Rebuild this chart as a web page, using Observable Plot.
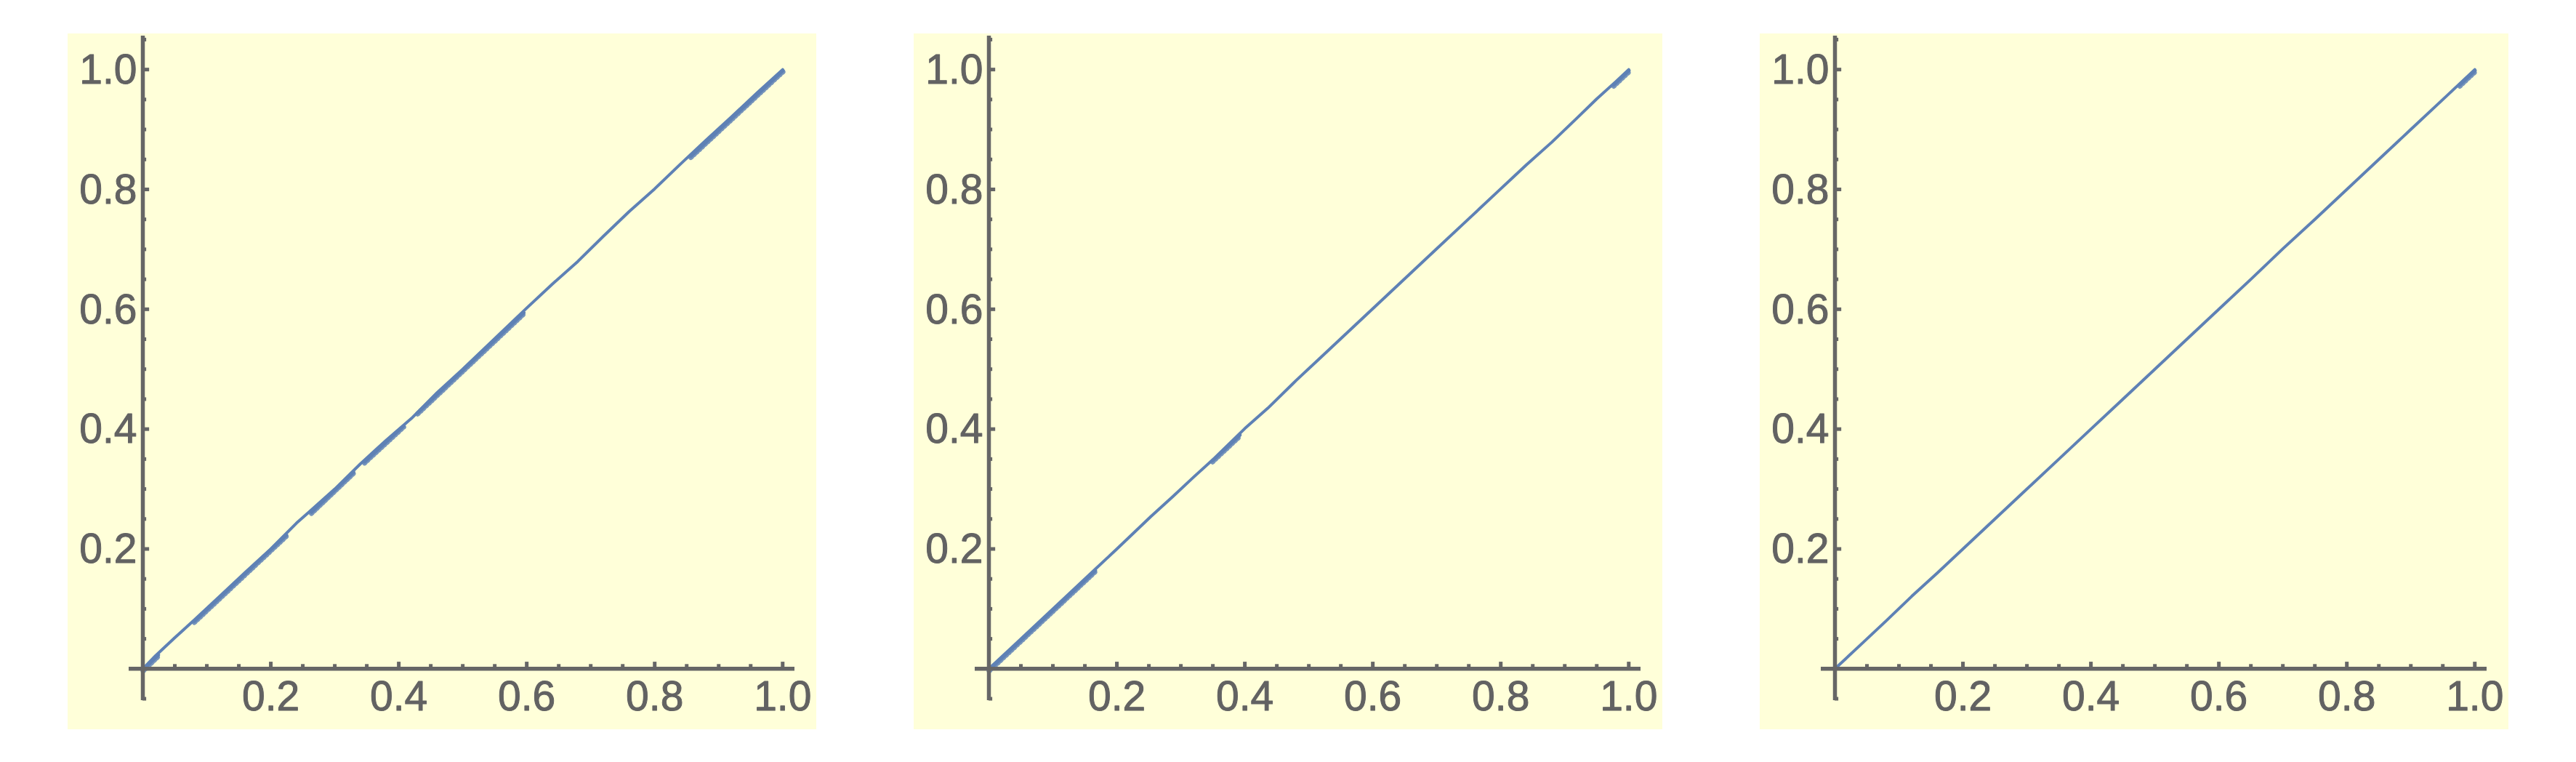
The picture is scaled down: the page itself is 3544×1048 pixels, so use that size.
<!DOCTYPE html>
<html>
<head>
<meta charset="utf-8">
<script src="https://cdn.jsdelivr.net/npm/d3@7"></script>
<script src="https://cdn.jsdelivr.net/npm/@observablehq/plot@0.6"></script>
<style>
  html, body { margin: 0; padding: 0; background: #ffffff; }
  #wrap { display: flex; gap: 134px; padding: 46px 0 0 93px; }
  #wrap svg { display: block; }
</style>
</head>
<body>
<div id="wrap"></div>
<script>
// ---- tick values & labels ----
const xMajor = [0.2, 0.4, 0.6, 0.8, 1.0];
const xLabels = ["0.2", "0.4", "0.6", "0.8", "1.0"];
const yMajor = [0.2, 0.4, 0.6, 0.8, 1.0];
const yLabels = ["0.2", "0.4", "0.6", "0.8", "1.0"];
const xMinor = [0.05, 0.1, 0.15, 0.25, 0.3, 0.35, 0.45, 0.5, 0.55, 0.65, 0.7, 0.75, 0.85, 0.9, 0.95];
const yMinor = [-0.05, 0.05, 0.1, 0.15, 0.25, 0.3, 0.35, 0.45, 0.5, 0.55, 0.65, 0.7, 0.75, 0.85, 0.9, 0.95, 1.05];

// ---- panel 1 series ----
const p1x = [0, 0.02, 0.05, 0.08, 0.12, 0.16, 0.2, 0.24, 0.26, 0.3, 0.34, 0.38, 0.42, 0.46, 0.5, 0.55, 0.6, 0.64, 0.68, 0.72, 0.76, 0.8, 0.84, 0.88, 0.92, 0.96, 1.0];
const p1y = [0, 0.022, 0.052, 0.081, 0.121, 0.161, 0.2, 0.243, 0.262, 0.3, 0.342, 0.381, 0.418, 0.461, 0.5, 0.551, 0.602, 0.642, 0.68, 0.722, 0.763, 0.801, 0.842, 0.882, 0.921, 0.961, 1.0];
// noisy stretches of panel 1 (start/end)
const p1nx = [[0, 0.024], [0.08, 0.224], [0.263, 0.329], [0.346, 0.407], [0.429, 0.595], [0.856, 1.0]];
const p1ny = [[0, 0.025], [0.081, 0.225], [0.263, 0.33], [0.347, 0.407], [0.429, 0.596], [0.857, 1.0]];

// ---- panel 2 series ----
const p2x = [0, 0.04, 0.08, 0.12, 0.166, 0.2, 0.253, 0.288, 0.32, 0.353, 0.4, 0.436, 0.48, 0.52, 0.56, 0.6, 0.65, 0.7, 0.75, 0.8, 0.84, 0.88, 0.92, 0.95, 0.98, 1.0];
const p2y = [0, 0.04, 0.08, 0.12, 0.166, 0.2, 0.254, 0.288, 0.32, 0.352, 0.401, 0.435, 0.481, 0.521, 0.561, 0.601, 0.651, 0.701, 0.751, 0.801, 0.841, 0.879, 0.92, 0.951, 0.98, 1.0];
const p2nx = [[0, 0.166], [0.349, 0.392], [0.976, 1.0]];
const p2ny = [[0, 0.166], [0.349, 0.392], [0.976, 1.0]];

// ---- panel 3 series ----
const p3x = [0, 0.04, 0.08, 0.12, 0.16, 0.2, 0.25, 0.3, 0.35, 0.4, 0.45, 0.5, 0.55, 0.6, 0.65, 0.7, 0.75, 0.8, 0.85, 0.9, 0.95, 0.98, 1.0];
const p3y = [0, 0.04, 0.08, 0.121, 0.16, 0.2, 0.25, 0.3, 0.35, 0.4, 0.45, 0.5, 0.55, 0.6, 0.65, 0.701, 0.75, 0.8, 0.85, 0.9, 0.95, 0.98, 1.0];
const p3nx = [[0.976, 1.0]];
const p3ny = [[0.976, 1.0]];

const panels = [
  {x: p1x, y: p1y, nx: p1nx, ny: p1ny},
  {x: p2x, y: p2y, nx: p2nx, ny: p2ny},
  {x: p3x, y: p3y, nx: p3nx, ny: p3ny}
];

const AXIS = "#666666";
const LINE = "#5E81B5";
const BG = "#FFFFD9";
const TEXT = "#626262";
const FONT = "'Liberation Sans', Arial, Helvetica, sans-serif";

function makePanel(p) {
  const line = p.x.map((x, i) => ({x, y: p.y[i]}));
  const noisy = p.nx.flatMap((seg, k) => seg.map((x, j) => ({x, y: p.ny[k][j], seg: k})));
  return Plot.plot({
    width: 1030,
    height: 957,
    marginLeft: 84,
    marginRight: 30,
    marginTop: 3,
    marginBottom: 40,
    x: {domain: [-0.0216, 1.019], axis: null},
    y: {domain: [-0.053, 1.056], axis: null},
    style: {background: BG, fontFamily: FONT, overflow: "visible"},
    marks: [
      // data line (noisy stretches drawn as a fuzzy band beneath)
      Plot.line(noisy, {x: "x", y: "y", z: "seg", stroke: LINE, strokeWidth: 4.5, dx: 0.5, dy: 1.5}),
      Plot.line(noisy, {x: "x", y: "y", z: "seg", stroke: LINE, strokeWidth: 7, dx: 0.5, dy: 3, strokeDasharray: "1.2 4", strokeOpacity: 0.85}),
      Plot.line(line, {x: "x", y: "y", stroke: LINE, strokeWidth: 4}),
      // axes
      Plot.ruleY([0], {stroke: AXIS, strokeWidth: 5.5}),
      Plot.ruleX([0], {stroke: AXIS, strokeWidth: 5.5}),
      // x ticks (pointing up)
      Plot.ruleX(xMinor, {x: d => d, y1: 0, y2: 0.0073, stroke: AXIS, strokeWidth: 5}),
      Plot.ruleX(xMajor, {x: d => d, y1: 0, y2: 0.0112, stroke: AXIS, strokeWidth: 5}),
      // y ticks (pointing right)
      Plot.ruleY(yMinor, {y: d => d, x1: 0, x2: 0.0058, stroke: AXIS, strokeWidth: 5}),
      Plot.ruleY(yMajor, {y: d => d, x1: 0, x2: 0.0104, stroke: AXIS, strokeWidth: 5}),
      // tick labels
      Plot.text(xMajor, {x: d => d, y: 0, text: (d, i) => xLabels[i], dy: 39, fontSize: 57, fill: TEXT, stroke: TEXT, strokeWidth: 1}),
      Plot.text(yMajor, {x: 0, y: d => d, text: (d, i) => yLabels[i], textAnchor: "end", dx: -8, dy: 1, fontSize: 57, fill: TEXT, stroke: TEXT, strokeWidth: 1})
    ]
  });
}

const wrap = document.getElementById("wrap");
for (const p of panels) wrap.appendChild(makePanel(p));
</script>
</body>
</html>
